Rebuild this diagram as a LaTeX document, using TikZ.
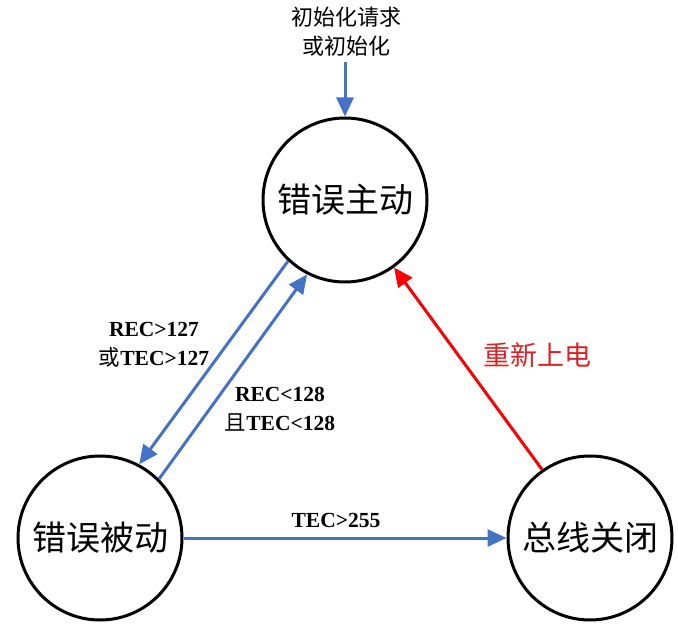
\documentclass[tikz,border=0pt]{standalone}
\usepackage{fontspec}
\setmainfont{Liberation Serif}
\newfontfamily\cjk{Noto Sans CJK SC}
\usetikzlibrary{arrows.meta}
\definecolor{lblue}{RGB}{68,114,196}
\definecolor{lred}{RGB}{255,0,0}
\definecolor{tred}{RGB}{215,35,35}
\begin{document}
\begin{tikzpicture}[x=1pt,y=-1pt,
  state/.style={circle,draw=black,line width=3pt,minimum size=164pt,inner sep=0pt,font=\cjk\fontsize{34}{36}\selectfont},
  barrow/.style={draw=lblue,line width=3pt,-{Triangle[length=19pt,width=17pt]}},
  rarrow/.style={draw=lred,line width=3pt,-{Triangle[length=19pt,width=17pt]}},
  lab/.style={font=\bfseries\fontsize{21.5}{29}\selectfont,align=center,inner sep=0pt},
  cjklab/.style={font=\cjk\fontsize{22}{29}\selectfont,align=center,inner sep=0pt}]
\useasboundingbox (0,0) rectangle (678,628);
\node[state] (active) at (345,200) {错误主动};
\node[state] (passive) at (100,538) {错误被动};
\node[state] (busoff) at (590,538) {总线关闭};
\coordinate (init) at (345,62);
\node[cjklab] (initlab) at (346,32) {初始化请求\\或初始化};
\draw[barrow] (init) -- (active.north);
\draw[barrow] (active.227) -- (passive.62);
\draw[barrow] (passive.45) -- (active.243);
\draw[barrow] (passive.east) -- (busoff.west);
\draw[rarrow] (busoff.125) -- (active.306);
\node[lab] (l1) at (154,345) {REC>127\\{\cjk\mdseries 或}TEC>127};
\node[lab] (l2) at (280,409) {REC<128\\{\cjk\mdseries 且}TEC<128};
\node[lab] (l3) at (336,520) {TEC>255};
\node[cjklab,text=tred,font=\cjk\fontsize{27}{29}\selectfont] (l4) at (537,355) {重新上电};
\end{tikzpicture}
\end{document}
